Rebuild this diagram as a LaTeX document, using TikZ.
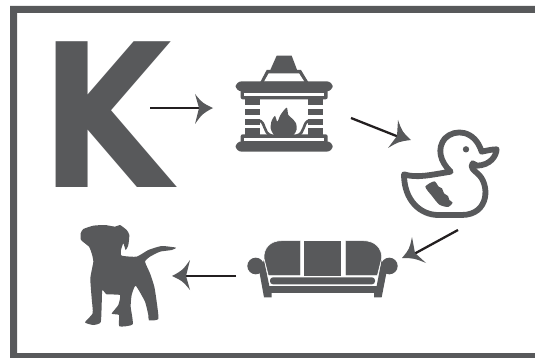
\documentclass[tikz,border=0pt]{standalone}
\usepackage{fontspec}
\newfontfamily\kfont{DejaVu Sans}[BoldFont={DejaVu Sans Bold}]
\usetikzlibrary{calc}
\definecolor{ink}{HTML}{58595B}
\definecolor{wire}{HTML}{231F20}
\tikzset{
  zoomed/.style={x=0.33333pt,y=-0.33333pt},
  solid ink/.style={fill=ink,draw=none},
  cut/.style={fill=white,draw=none},
  wireline/.style={draw=wire,line width=2.3pt},
}
\newcommand{\headtip}[4]{%
  \fill[ink] (#1) .. controls ($($(#1)!.5!(#2)$)!.3!(#3)$) .. (#2) -- (#3) -- (#4)
     .. controls ($($(#1)!.5!(#4)$)!.3!(#3)$) .. cycle;}
\begin{document}
\begin{tikzpicture}[x=1pt,y=-1pt]
\useasboundingbox (0,0) rectangle (535,358);
% frame
\fill[ink] (535,6) -- (10,6) -- (10,358) -- (535,358) -- (535,353) -- (17,353) -- (17,13) -- (535,13) -- cycle;
% letter
\node[anchor=base west,inner sep=0pt,text=ink] (k) at (40,187) {\scalebox{.85}[1]{\fontsize{200}{200}\selectfont\kfont\bfseries K}};
% fireplace
\begin{scope}[shift={(220,40)},zoomed]
  \fill[solid ink] (170,47) -- (215,47) -- (232,92) -- (150,92) -- cycle;
  \fill[solid ink] (140,90) -- (243,90) -- (266,128) -- (120,128) -- cycle;
  \fill[cut] (146,100) -- (237,100) -- (253,125) -- (132,125) -- cycle;
  \fill[solid ink,rounded corners=6pt] (47,124) rectangle (338,154);
  \fill[solid ink,rounded corners=2pt] (62,148) rectangle (323,178);
  \fill[cut] (72,158) rectangle (312,167);
  \fill[solid ink] (75,167) rectangle (120,195);
  \fill[solid ink] (265,167) rectangle (310,195);
  \fill[solid ink] (75,207) rectangle (120,226);
  \fill[solid ink] (265,207) rectangle (310,226);
  \fill[solid ink] (75,237) rectangle (120,256);
  \fill[solid ink] (265,237) rectangle (310,256);
  \fill[solid ink] (75,264) rectangle (120,285);
  \fill[solid ink] (265,264) rectangle (310,285);
  \draw[ink,line width=2.6pt] (116,241) .. controls (138,245) and (128,280) .. (155,287);
  \draw[ink,line width=2.6pt] (269,241) .. controls (247,245) and (257,280) .. (230,287);
  \fill[solid ink,rounded corners=2pt] (62,283) rectangle (323,310);
  \fill[cut] (72,295) rectangle (312,304);
  \fill[solid ink,rounded corners=6pt] (47,304) rectangle (338,335);
  \fill[solid ink] plot[smooth cycle,tension=.45] coordinates {(152,265) (155,242) (165,228) (172,245) (182,224) (200,203) (205,225) (217,236) (228,250) (230,268) (220,285) (190,289) (163,285)};
\end{scope}
% duck
\begin{scope}[shift={(390,120)},zoomed]
  \draw[ink,line width=5.8pt,line join=round,line cap=round]
    (42,163) .. controls (80,175) and (120,165) .. (182,155)
    .. controls (150,125) and (140,85) .. (165,55)
    .. controls (195,25) and (255,30) .. (275,95)
    .. controls (290,92) and (305,88) .. (320,88)
    .. controls (318,110) and (300,135) .. (262,137)
    -- (248,130)
    .. controls (240,142) and (250,150) .. (262,160)
    .. controls (300,190) and (300,285) .. (215,285)
    -- (145,285)
    .. controls (90,285) and (42,240) .. (42,163) -- cycle;
  \fill[ink] (228,88) circle[radius=9.5];
  \fill[solid ink] plot[smooth cycle,tension=.4] coordinates {(106,200) (133,184) (146,200) (156,205) (162,220) (174,228) (178,240) (188,248) (174,261) (148,254) (126,228)};
\end{scope}
% sofa
\begin{scope}[shift={(240,225)},zoomed]
  \fill[solid ink] (47,123) circle[radius=25];
  \fill[solid ink] (448,123) circle[radius=25];
  \fill[solid ink] (58,140) -- (72,217) -- (95,217) -- (95,203) -- (402,203) -- (402,217) -- (425,217) -- (440,140) -- (425,105) -- (410,183) -- (88,183) -- (72,105) -- cycle;
  \fill[solid ink] (88,183) rectangle (410,203);
  \fill[solid ink,rounded corners=3pt] (90,157) rectangle (405,178);
  \path[fill=ink,draw=white,line width=.6pt] (182,47) -- (125,47) .. controls (90,47) and (70,70) .. (72,100) -- (85,152) -- (182,152) -- cycle;
  \fill[solid ink] (192,47) rectangle (303,152);
  \path[fill=ink,draw=white,line width=.6pt] (316,47) -- (370,47) .. controls (405,47) and (427,70) .. (425,100) -- (412,152) -- (316,152) -- cycle;
\end{scope}
% dog
\begin{scope}[shift={(65,215)},zoomed]
  \fill[solid ink] plot[smooth cycle,tension=.3] coordinates {(47,55) (55,42) (85,32) (120,30) (150,35) (165,30) (185,45) (193,60) (190,90) (182,105) (175,85) (168,105) (170,122) (215,125) (250,105) (290,93) (333,98) (320,105) (285,110) (255,125) (240,140) (255,175) (268,215) (275,260) (280,312) (252,316) (250,300) (240,260) (212,212) (200,240) (197,275) (203,328) (163,334) (162,300) (140,296) (160,270) (165,240) (125,238) (112,225) (110,270) (107,322) (85,330) (60,322) (83,295) (80,250) (76,190) (85,140) (80,115) (72,95) (48,75)};
\end{scope}
% connectors
\coordinate (a1) at (150,108); \coordinate (a1e) at (200,108);
\coordinate (a1t) at (213,108); \coordinate (a1b) at (195,94); \coordinate (a1c) at (195,124); \coordinate (a1n) at (199,108);
\coordinate (a2) at (351,118); \coordinate (a2e) at (399,137);
\coordinate (a2t) at (411,140); \coordinate (a2b) at (398,120); \coordinate (a2c) at (388,148); \coordinate (a2n) at (397,136);
\coordinate (a3) at (458,230); \coordinate (a3e) at (414,254);
\coordinate (a3t) at (402,258); \coordinate (a3b) at (412,237); \coordinate (a3c) at (426,263); \coordinate (a3n) at (415,253);
\coordinate (a4) at (236,276); \coordinate (a4e) at (185,276);
\coordinate (a4t) at (172,276); \coordinate (a4b) at (190,260); \coordinate (a4c) at (190,290); \coordinate (a4n) at (186,276);
\draw[wireline] (a1) -- (a1e);
\draw[wireline] (a2) -- (a2e);
\draw[wireline] (a3) -- (a3e);
\draw[wireline] (a4) -- (a4e);
\headtip{a1t}{a1b}{a1n}{a1c}
\headtip{a2t}{a2b}{a2n}{a2c}
\headtip{a3t}{a3b}{a3n}{a3c}
\headtip{a4t}{a4b}{a4n}{a4c}
\end{tikzpicture}
\end{document}
